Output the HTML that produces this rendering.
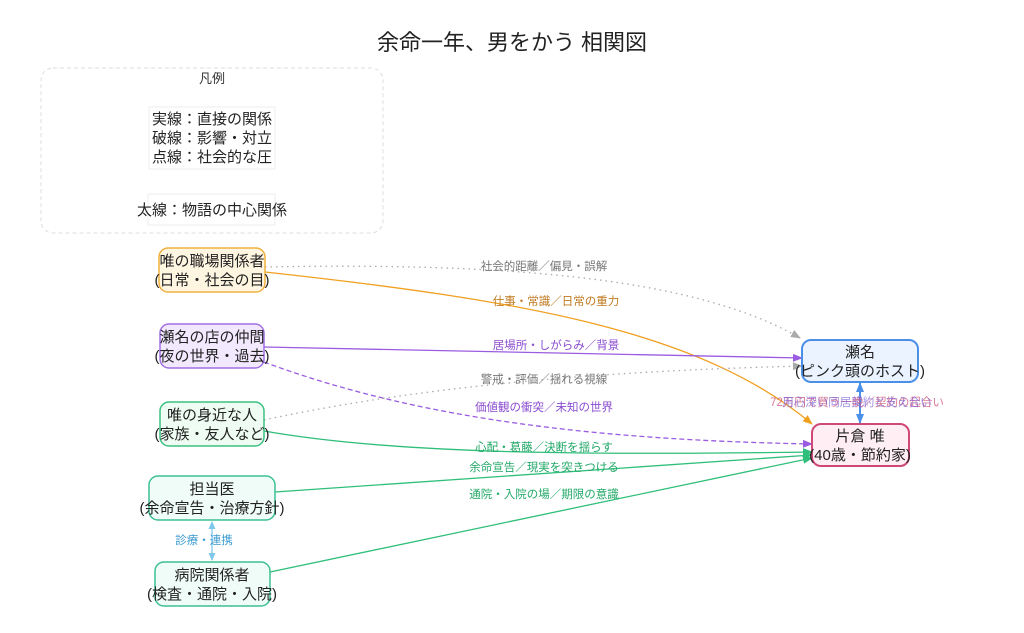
<!DOCTYPE html>
<html><head><meta charset="utf-8"><style>
body{margin:0;background:#fff;}
svg{display:block;font-family:"Liberation Sans","Noto Sans CJK JP",sans-serif;}
</style></head><body>
<svg width="1024" height="633" viewBox="0 0 1024 633" xmlns="http://www.w3.org/2000/svg">
<defs>
<marker id="ao" markerWidth="10" markerHeight="8" refX="9" refY="4" orient="auto" markerUnits="userSpaceOnUse"><path d="M0,0L10,4L0,8z" fill="#f0a020"/></marker>
<marker id="ag" markerWidth="10" markerHeight="8" refX="9" refY="4" orient="auto" markerUnits="userSpaceOnUse"><path d="M0,0L10,4L0,8z" fill="#aaa"/></marker>
<marker id="ap" markerWidth="10" markerHeight="8" refX="9" refY="4" orient="auto" markerUnits="userSpaceOnUse"><path d="M0,0L10,4L0,8z" fill="#9a5ce0"/></marker>
<marker id="an" markerWidth="10" markerHeight="8" refX="9" refY="4" orient="auto" markerUnits="userSpaceOnUse"><path d="M0,0L10,4L0,8z" fill="#2fbf7a"/></marker>
<marker id="ab" markerWidth="10" markerHeight="8" refX="9" refY="4" orient="auto-start-reverse" markerUnits="userSpaceOnUse"><path d="M0,0L10,4L0,8z" fill="#4a8fe8"/></marker>
<marker id="al" markerWidth="8" markerHeight="7" refX="7" refY="3.5" orient="auto-start-reverse" markerUnits="userSpaceOnUse"><path d="M0,0L8,3.5L0,7z" fill="#80c8ea"/></marker>
</defs>
<text x="512" y="50" font-size="22" text-anchor="middle" fill="#222">余命一年、男をかう 相関図</text>
<rect x="41" y="68" width="342" height="165" rx="12" fill="none" stroke="#ddd" stroke-dasharray="4,3"/>
<text x="212" y="83" font-size="13" text-anchor="middle" fill="#333">凡例</text>
<rect x="149" y="107" width="126" height="62" fill="none" stroke="#eee"/>
<text font-size="15" text-anchor="middle" fill="#222"><tspan x="212" y="124">実線：直接の関係</tspan><tspan x="212" y="143">破線：影響・対立</tspan><tspan x="212" y="162">点線：社会的な圧</tspan></text>
<rect x="148" y="194" width="127" height="31" fill="none" stroke="#eee"/>
<text x="212" y="215" font-size="15" text-anchor="middle" fill="#222">太線：物語の中心関係</text>

<path d="M265,267 C520,262 700,280 800,338" fill="none" stroke="#aaa" stroke-width="1.3" stroke-dasharray="1.5,4" marker-end="url(#ag)"/>
<path d="M265,272 C520,300 700,330 812,424" fill="none" stroke="#f0a020" stroke-width="1.3" marker-end="url(#ao)"/>
<path d="M264,347 L802,358" fill="none" stroke="#9a5ce0" stroke-width="1.3" marker-end="url(#ap)"/>
<path d="M264,362 C420,420 600,440 812,444" fill="none" stroke="#9a5ce0" stroke-width="1.3" stroke-dasharray="5,3" marker-end="url(#ap)"/>
<path d="M264,420 C450,380 650,370 802,366" fill="none" stroke="#aaa" stroke-width="1.3" stroke-dasharray="1.5,4" marker-end="url(#ag)"/>
<path d="M264,431 C400,455 600,455 812,452" fill="none" stroke="#2fbf7a" stroke-width="1.3" marker-end="url(#an)"/>
<path d="M275,492 L812,455" fill="none" stroke="#2fbf7a" stroke-width="1.3" marker-end="url(#an)"/>
<path d="M270,572 L812,458" fill="none" stroke="#2fbf7a" stroke-width="1.3" marker-end="url(#an)"/>
<path d="M860,383 L860,423" fill="none" stroke="#4a8fe8" stroke-width="2" marker-start="url(#ab)" marker-end="url(#ab)"/>
<path d="M212,522 L212,560" fill="none" stroke="#80c8ea" stroke-width="1.3" marker-start="url(#al)" marker-end="url(#al)"/>

<g font-size="11.5" text-anchor="middle">
<text x="544" y="270" fill="#777">社会的距離／偏見・誤解</text>
<text x="556" y="305" fill="#c07a20">仕事・常識／日常の重力</text>
<text x="556" y="349" fill="#8a4cd0">居場所・しがらみ／背景</text>
<text x="544" y="383" fill="#777">警戒・評価／揺れる視線</text>
<text x="544" y="411" fill="#8a4cd0">価値観の衝突／未知の世界</text>
<text x="544" y="451" fill="#22a868">心配・葛藤／決断を揺らす</text>
<text x="544" y="471" fill="#22a868">余命宣告／現実を突きつける</text>
<text x="544" y="498" fill="#22a868">通院・入院の場／期限の意識</text>
<text x="204" y="544" fill="#3a9ad0">診療・連携</text>
<text x="857" y="406" fill="#d06080" opacity="0.85">72万円で買う一晩／契約の起合い</text>
<text x="857" y="406" fill="#7a60d8" opacity="0.7">用心深い同居契約と支え合い</text>
</g>

<g font-size="15" text-anchor="middle" fill="#222">
<rect x="159" y="248" width="106" height="44" rx="9" fill="#fff6e2" stroke="#f0b040" stroke-width="1.5"/>
<text><tspan x="212" y="266">唯の職場関係者</tspan><tspan x="212" y="285">(日常・社会の目)</tspan></text>
<rect x="160" y="324" width="104" height="44" rx="9" fill="#f3e9ff" stroke="#a070e0" stroke-width="1.5"/>
<text><tspan x="212" y="342">瀬名の店の仲間</tspan><tspan x="212" y="361">(夜の世界・過去)</tspan></text>
<rect x="160" y="402" width="104" height="44" rx="9" fill="#eefcf3" stroke="#3cc080" stroke-width="1.5"/>
<text><tspan x="212" y="420">唯の身近な人</tspan><tspan x="212" y="439">(家族・友人など)</tspan></text>
<rect x="149" y="476" width="126" height="44" rx="9" fill="#effcf8" stroke="#3cc090" stroke-width="1.5"/>
<text><tspan x="212" y="494">担当医</tspan><tspan x="212" y="513">(余命宣告・治療方針)</tspan></text>
<rect x="155" y="562" width="115" height="44" rx="9" fill="#effcf8" stroke="#3cc090" stroke-width="1.5"/>
<text><tspan x="212" y="580">病院関係者</tspan><tspan x="212" y="599">(検査・通院・入院)</tspan></text>
<rect x="802" y="340" width="116" height="42" rx="9" fill="#eaf3ff" stroke="#4a8fe8" stroke-width="2"/>
<text><tspan x="860" y="357">瀬名</tspan><tspan x="860" y="376">(ピンク頭のホスト)</tspan></text>
<rect x="812" y="424" width="97" height="42" rx="9" fill="#ffeef3" stroke="#d04878" stroke-width="2"/>
<text><tspan x="860" y="441">片倉 唯</tspan><tspan x="860" y="460">(40歳・節約家)</tspan></text>
</g>
</svg>
</body></html>
